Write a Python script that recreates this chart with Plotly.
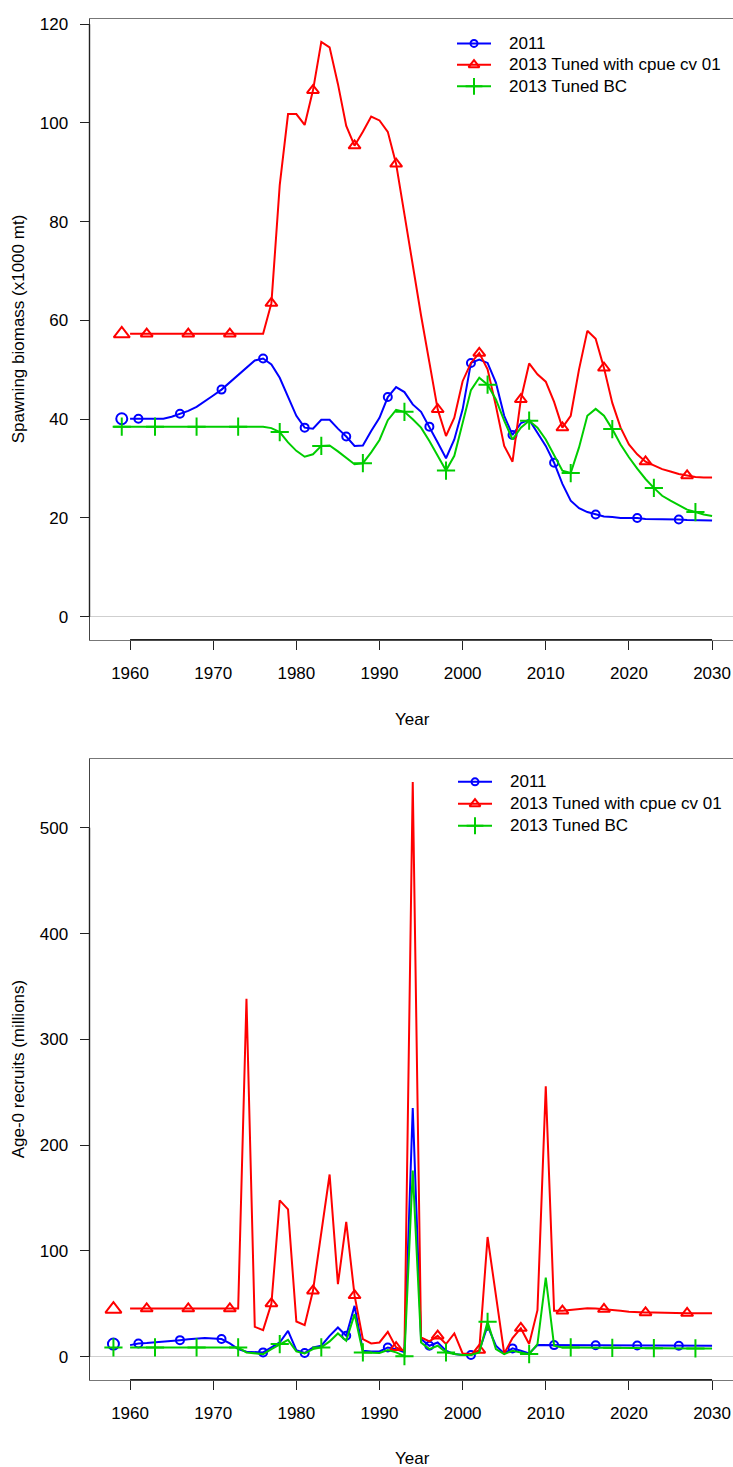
import plotly.graph_objects as go

W, H = 733, 1467
FONT = "Liberation Sans, Arial, Helvetica, sans-serif"

# ---------------- series definitions ----------------
series_names = ["2011", "2013 Tuned with cpue cv 01", "2013 Tuned BC"]
series_colors = ["#0000FF", "#FF0000", "#00CD00"]
series_symbols = ["circle-open", "triangle-up-open", "cross-thin-open"]
marker_sizes = [8, 10.5, 13]
virgin_sizes = [11, 14, 13]
marker_first_year = [1961, 1962, 1963]   # markers every 5 years from here

# ---------------- spawning biomass (x1000 mt) ----------------
sb_years = list(range(1960, 2031))
sb_years_bc = list(range(1958, 2031))
sb_virgin_year = 1959

sb_2011 = [
    40.1, 40.1, 40.1, 40.1, 40.1, 40.5, 41.1, 41.7, 42.5, 43.6,   # 1960-1969
    44.8, 46.0, 47.5, 49.1, 50.6, 51.9, 52.3, 51.1, 48.4, 44.7,   # 1970-1979
    40.7, 38.3, 38.1, 39.9, 39.9, 38.1, 36.5, 34.6, 34.7, 37.6,   # 1980-1989
    40.3, 44.5, 46.5, 45.5, 43.0, 41.5, 38.5, 35.3, 32.1, 35.9,   # 1990-1999
    42.0, 51.4, 52.1, 51.4, 47.4, 40.7, 36.8, 39.2, 39.9, 37.3,   # 2000-2009
    34.6, 31.2, 26.9, 23.5, 22.0, 21.2, 20.7, 20.3, 20.2, 20.0,   # 2010-2019
    20.0, 20.0, 19.8, 19.8, 19.7, 19.7, 19.7, 19.6, 19.6, 19.5,   # 2020-2029
    19.5,                                                         # 2030
]
sb_cpue = [
    57.3, 57.3, 57.3, 57.3, 57.3, 57.3, 57.3, 57.3, 57.3, 57.3,   # 1960-1969
    57.3, 57.3, 57.3, 57.3, 57.3, 57.3, 57.3, 63.5, 87.4, 101.8,  # 1970-1979
    101.8, 99.6, 106.6, 116.4, 115.3, 107.9, 99.4, 95.4, 98.2, 101.3,  # 1980-1989
    100.5, 98.2, 91.7, 81.5, 71.0, 61.0, 51.5, 42.0, 36.6, 40.3,  # 1990-1999
    47.7, 51.4, 53.4, 50.1, 42.7, 34.6, 31.4, 44.0, 51.3, 49.1,   # 2000-2009
    47.6, 43.5, 38.3, 40.7, 50.1, 57.9, 56.3, 50.4, 43.3, 38.3,   # 2010-2019
    34.9, 32.9, 31.4, 30.6, 29.9, 29.4, 28.9, 28.6, 28.3, 28.2,   # 2020-2029
    28.2,                                                         # 2030
]
sb_bc = [
    38.5, 38.5,                                                   # 1958-1959
    38.5, 38.5, 38.5, 38.5, 38.5, 38.5, 38.5, 38.5, 38.5, 38.5,   # 1960-1969
    38.5, 38.5, 38.5, 38.5, 38.5, 38.5, 38.5, 38.2, 37.4, 35.3,   # 1970-1979
    33.6, 32.4, 32.9, 34.6, 34.7, 33.5, 32.1, 30.9, 31.1, 33.3,   # 1980-1989
    35.8, 39.8, 41.9, 41.5, 40.0, 38.3, 35.6, 32.5, 29.6, 32.6,   # 1990-1999
    39.3, 45.9, 48.4, 47.0, 44.0, 39.7, 35.9, 38.3, 39.7, 38.3,   # 2000-2009
    35.9, 32.7, 29.6, 29.1, 34.3, 40.7, 42.1, 40.7, 38.0, 34.9,   # 2010-2019
    32.3, 30.0, 27.9, 26.1, 24.5, 23.5, 22.6, 21.7, 21.2, 20.7,   # 2020-2029
    20.4,                                                         # 2030
]
sb_virgin = [40.1, 57.3, 38.5]

# ---------------- age-0 recruits (millions) ----------------
rec_years = list(range(1960, 2031))
rec_virgin_year = 1958

rec_2011 = [
    11.0, 12.6, 13.0, 13.5, 14.3, 15.0, 15.7, 16.5, 17.2, 17.6,   # 1960-1969
    17.2, 16.7, 12.6, 7.2, 4.7, 4.1, 4.1, 8.8, 13.5, 24.5,        # 1970-1979
    6.3, 3.5, 8.8, 10.4, 19.8, 27.7, 19.8, 48.1, 5.7, 5.0,        # 1980-1989
    5.0, 8.8, 7.2, 4.1, 235.2, 16.7, 10.4, 13.5, 5.7, 2.5,        # 1990-1999
    1.6, 1.6, 5.7, 29.2, 10.4, 3.1, 7.9, 5.7, 3.1, 11.0,          # 2000-2009
    11.0, 11.0, 11.0, 10.9, 10.9, 10.8, 10.8, 10.7, 10.7, 10.6,   # 2010-2019
    10.6, 10.6, 10.5, 10.5, 10.5, 10.4, 10.4, 10.4, 10.4, 10.4,   # 2020-2029
    10.4,                                                         # 2030
]
rec_cpue = [
    45.5, 45.5, 45.5, 45.5, 45.5, 45.5, 45.5, 45.5, 45.5, 45.5,   # 1960-1969
    45.5, 45.5, 45.5, 45.5, 338.5, 28.3, 25.2, 50.3, 147.8, 139.3,  # 1970-1979
    33.3, 29.9, 62.3, 117.3, 172.3, 68.6, 127.4, 58.0, 16.7, 12.6,  # 1980-1989
    13.5, 23.6, 8.8, 5.7, 543.4, 18.2, 14.5, 19.8, 12.0, 22.0,    # 1990-1999
    3.1, 2.5, 6.3, 113.2, 59.1, 3.1, 17.6, 27.0, 12.0, 44.0,      # 2000-2009
    255.7, 43.4, 43.4, 44.0, 45.0, 45.9, 45.5, 45.0, 44.2, 43.4,  # 2010-2019
    42.6, 42.0, 41.8, 41.8, 41.5, 41.2, 41.2, 41.2, 41.2, 41.2,   # 2020-2029
    41.2,                                                         # 2030
]
rec_bc = [
    8.8, 8.8, 8.8, 8.8, 8.8, 8.8, 8.8, 8.8, 8.8, 8.8,             # 1960-1969
    8.8, 8.8, 8.8, 8.8, 4.1, 3.1, 2.5, 7.2, 12.0, 16.0,           # 1970-1979
    5.0, 3.1, 7.2, 8.8, 14.5, 22.0, 15.1, 40.3, 4.1, 3.5,         # 1980-1989
    3.5, 6.3, 4.1, 0.5, 176.1, 13.5, 7.2, 10.4, 4.1, 2.5,         # 1990-1999
    1.6, 1.6, 4.1, 33.0, 7.2, 2.5, 5.7, 4.1, 2.5, 12.0,           # 2000-2009
    74.8, 10.4, 8.8, 8.8, 8.7, 8.6, 8.5, 8.4, 8.4, 8.3,           # 2010-2019
    8.3, 8.2, 8.2, 8.1, 8.1, 8.0, 8.0, 8.0, 7.9, 7.9,             # 2020-2029
    7.9,                                                          # 2030
]
rec_virgin = [12.0, 45.0, 8.8]

x_ticks = list(range(1960, 2031, 10))
sb_ticks = list(range(0, 121, 20))
rec_ticks = list(range(0, 501, 100))

# ---------------- layout geometry (pixels) ----------------
BOX_L, BOX_R = 89.5, 736.0          # plot box; right edge sits just past the page
TOP_Y0, TOP_Y1 = 15.0, 637.5
BOT_Y0, BOT_Y1 = 757.0, 1379.5


def padded(lo, hi, f=0.04):
    d = (hi - lo) * f
    return lo - d, hi + d


# x range padded like base graphics, then cut at the page edge
x_lo, x_hi_full = padded(1958, 2030)
px_per_year = (BOX_R - BOX_L) / (x_hi_full - x_lo)
x_hi = x_lo + (W - BOX_L) / px_per_year

sb_rng = padded(0, max(max(sb_2011), max(sb_cpue), max(sb_bc), max(sb_virgin)))
rec_rng = padded(0, max(max(rec_2011), max(rec_cpue), max(rec_bc), max(rec_virgin)))


def ydom(y0, y1):
    return [(H - y1) / H, (H - y0) / H]


fig = go.Figure()


def add_panel(xa, ya, year_lists, value_lists, virgin_year, virgin_vals):
    for i in range(3):
        yrs, vals = year_lists[i], value_lists[i]
        col = series_colors[i]
        fig.add_trace(go.Scatter(
            x=yrs, y=vals, mode="lines", xaxis=xa, yaxis=ya,
            line=dict(color=col, width=2), showlegend=False, hoverinfo="skip"))
        mx = [y for y in yrs if y >= marker_first_year[i] and (y - marker_first_year[i]) % 5 == 0]
        my = [vals[yrs.index(y)] for y in mx]
        fig.add_trace(go.Scatter(
            x=mx, y=my, mode="markers", xaxis=xa, yaxis=ya,
            marker=dict(symbol=series_symbols[i], size=marker_sizes[i], color=col,
                        line=dict(color=col, width=2)),
            showlegend=False, hoverinfo="skip"))
        fig.add_trace(go.Scatter(
            x=[virgin_year], y=[virgin_vals[i]], mode="markers", xaxis=xa, yaxis=ya,
            marker=dict(symbol=series_symbols[i], size=virgin_sizes[i], color=col,
                        line=dict(color=col, width=2)),
            showlegend=False, hoverinfo="skip"))


add_panel("x", "y", [sb_years, sb_years, sb_years_bc], [sb_2011, sb_cpue, sb_bc],
          sb_virgin_year, sb_virgin)
add_panel("x2", "y2", [rec_years, rec_years, rec_years], [rec_2011, rec_cpue, rec_bc],
          rec_virgin_year, rec_virgin)

# ---------------- legends (drawn on a pixel overlay) ----------------
legend_rows = {"top": ([39.5, 61, 82.5], 457, 491, 507),
               "bottom": ([780, 802, 824], 458, 492, 508)}
for key, (rows, lx0, lx1, tx) in legend_rows.items():
    for i, ry in enumerate(rows):
        col = series_colors[i]
        fig.add_trace(go.Scatter(
            x=[lx0, lx1], y=[ry, ry], mode="lines", xaxis="x3", yaxis="y3",
            line=dict(color=col, width=2), showlegend=False, hoverinfo="skip"))
        fig.add_trace(go.Scatter(
            x=[(lx0 + lx1) / 2], y=[ry], mode="markers", xaxis="x3", yaxis="y3",
            marker=dict(symbol=series_symbols[i], size=marker_sizes[i] - 1, color=col,
                        line=dict(color=col, width=2)),
            showlegend=False, hoverinfo="skip"))
        fig.add_annotation(x=tx, y=ry, xref="x3", yref="y3", text=series_names[i],
                           showarrow=False, xanchor="left", yanchor="middle",
                           font=dict(family=FONT, size=17, color="black"))

tickfont = dict(family=FONT, size=17, color="black")
xdom = [BOX_L / W, 1.0]
common_x = dict(range=[x_lo, x_hi], domain=xdom, tickmode="array", tickvals=x_ticks,
                ticks="outside", ticklen=9, tickwidth=1, tickcolor="#222",
                tickfont=tickfont, ticklabelstandoff=9, showgrid=False, zeroline=False,
                showline=True, linecolor="#777", linewidth=1, mirror=True)
common_y = dict(ticks="outside", ticklen=9, tickwidth=1, tickcolor="#222",
                tickfont=tickfont, ticklabelstandoff=8, showgrid=False,
                zeroline=True, zerolinecolor="#cfcfcf", zerolinewidth=1,
                showline=True, linecolor="#444", linewidth=1, mirror=False)

fig.update_layout(
    width=W, height=H,
    margin=dict(l=0, r=0, t=0, b=0),
    paper_bgcolor="white", plot_bgcolor="rgba(0,0,0,0)",
    showlegend=False,
    xaxis=dict(anchor="y", **common_x),
    yaxis=dict(anchor="x", domain=ydom(TOP_Y0, TOP_Y1), range=list(sb_rng),
               tickmode="array", tickvals=sb_ticks, **common_y),
    xaxis2=dict(anchor="y2", **common_x),
    yaxis2=dict(anchor="x2", domain=ydom(BOT_Y0, BOT_Y1), range=list(rec_rng),
                tickmode="array", tickvals=rec_ticks, **common_y),
    xaxis3=dict(domain=[0, 1], range=[0, W], visible=False, fixedrange=True, anchor="y3"),
    yaxis3=dict(domain=[0, 1], range=[H, 0], visible=False, fixedrange=True, anchor="x3"),
)

# darker axis segments spanning the tick range
for xr, yr, ticks in (("x", "y", sb_ticks), ("x2", "y2", rec_ticks)):
    fig.add_shape(type="line", xref=xr, yref=f"{yr} domain", x0=x_ticks[0], x1=x_ticks[-1],
                  y0=0, y1=0, line=dict(color="#222", width=1.4))
    fig.add_shape(type="line", xref=f"{xr} domain", yref=yr, x0=0, x1=0,
                  y0=ticks[0], y1=ticks[-1], line=dict(color="#222", width=1.4))

# axis titles
title_font = dict(family=FONT, size=17, color="black")
x_mid = (BOX_L + BOX_R) / 2
for ty, text in ((717, "Year"), (1458, "Year")):
    fig.add_annotation(x=x_mid, y=ty, xref="x3", yref="y3", text=text, showarrow=False,
                       xanchor="center", yanchor="middle", font=title_font)
for (y0, y1), text in (((TOP_Y0, TOP_Y1), "Spawning biomass (x1000 mt)"),
                       ((BOT_Y0, BOT_Y1), "Age-0 recruits (millions)")):
    fig.add_annotation(x=18, y=(y0 + y1) / 2, xref="x3", yref="y3", text=text,
                       showarrow=False, textangle=-90, xanchor="center", yanchor="middle",
                       font=title_font)

fig.write_html("out.html")
